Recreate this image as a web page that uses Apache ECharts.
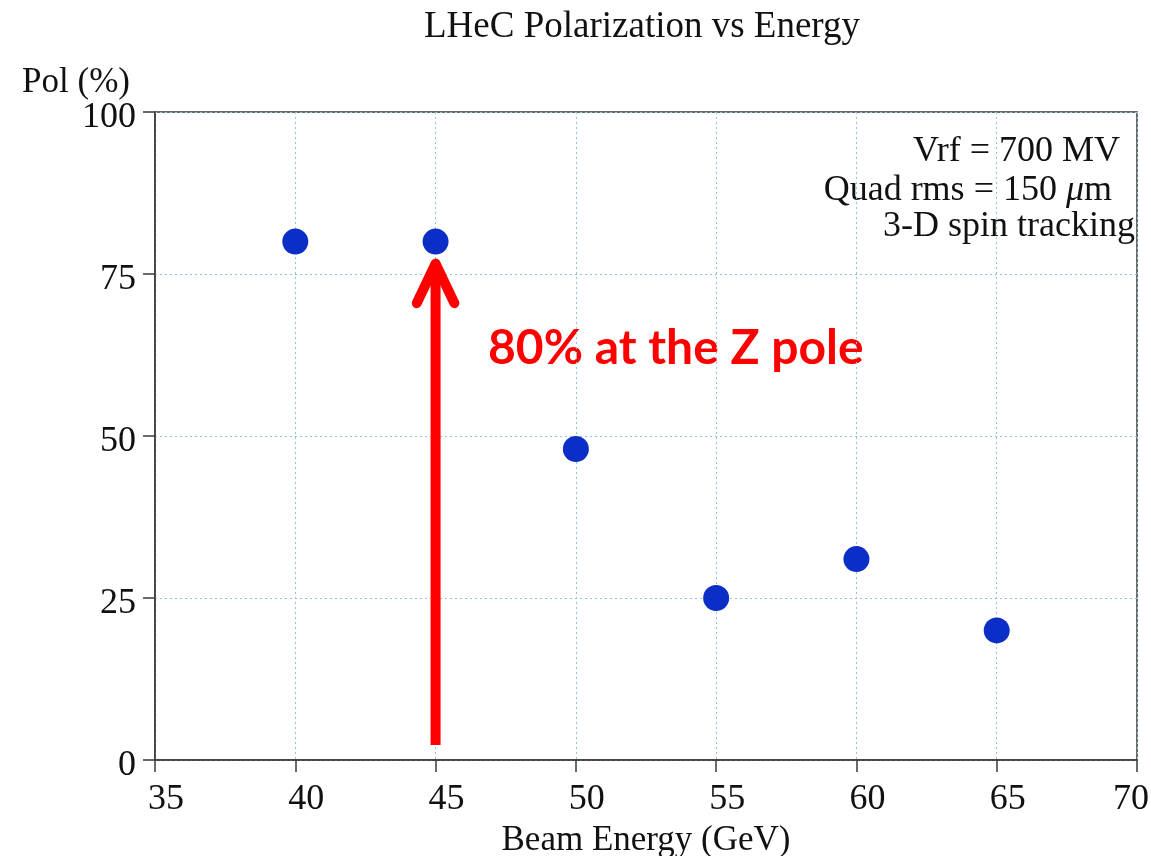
<!DOCTYPE html>
<html>
<head>
<meta charset="utf-8">
<script src="https://cdn.jsdelivr.net/npm/echarts@6/dist/echarts.min.js"></script>
<style>
  html, body { margin: 0; padding: 0; background: #fff; }
  #chart { width: 1151px; height: 856px; }
</style>
</head>
<body>
<div id="chart"></div>
<script>
// beam energy (GeV) and polarization (%)
const energies = [40, 45, 50, 55, 60, 65]
const polarization = [80, 80, 48, 25, 31, 20]

// annotation arrow at 45 GeV pointing at the Z pole point
const arrowShaft = [[45, 2.3], [45, 76.6]]
const arrowHead = [[44.33, 70.5], [45, 76.6], [45.67, 70.5]]

const infoLines = ['Vrf = 700 MV', 'Quad rms = 150 {mu|\u03bc}m', '3-D spin tracking']

const SERIF = '"Liberation Serif", "DejaVu Serif", serif'
const AXIS_COLOR = '#3a3a3a'
const GRID_COLOR = '#8fc6d6'
const DOT_COLOR = '#0b2fc6'
const ARROW_COLOR = '#ff0000'
const LABEL_FONT = { fontFamily: SERIF, fontSize: 36, color: '#111' }

const chart = echarts.init(document.getElementById('chart'))

chart.setOption({
  animation: false,
  title: {
    text: 'LHeC Polarization vs Energy',
    left: 637,
    top: 4,
    textAlign: 'center',
    textStyle: { fontFamily: SERIF, fontWeight: 'normal', fontSize: 37, color: '#111' }
  },
  grid: {
    left: 155,
    right: 14,
    top: 112,
    bottom: 96,
    containLabel: false,
    outerBoundsMode: 'none',
    show: true,
    borderColor: AXIS_COLOR,
    borderWidth: 1.5
  },
  xAxis: {
    type: 'value',
    min: 35,
    max: 70,
    interval: 5,
    name: 'Beam Energy (GeV)',
    nameLocation: 'middle',
    nameGap: 59,
    nameTextStyle: { fontFamily: SERIF, fontSize: 35, color: '#111' },
    axisLine: { lineStyle: { color: AXIS_COLOR, width: 1.5 } },
    axisTick: { show: true, inside: false, length: 12, lineStyle: { color: AXIS_COLOR, width: 1.5 } },
    axisLabel: {
      margin: 22,
      ...LABEL_FONT,
      // the labels sit slightly right of their ticks, the last one slightly left
      formatter: v => v === 70 ? '{r|' + v + '}' : '{l|' + v + '}',
      rich: {
        l: { ...LABEL_FONT, padding: [0, 0, 0, 22] },
        r: { ...LABEL_FONT, padding: [0, 12, 0, 0] }
      }
    },
    splitLine: { show: true, lineStyle: { color: GRID_COLOR, type: [2, 3], width: 1 } }
  },
  yAxis: {
    type: 'value',
    min: 0,
    max: 100,
    interval: 25,
    name: 'Pol (%)',
    nameLocation: 'end',
    nameGap: 11,
    nameTextStyle: { fontFamily: SERIF, fontSize: 35, color: '#111', align: 'right', padding: [0, 25, 0, 0] },
    axisLine: { show: true, lineStyle: { color: AXIS_COLOR, width: 1.5 } },
    axisTick: { show: true, inside: false, length: 12, lineStyle: { color: AXIS_COLOR, width: 1.5 } },
    axisLabel: {
      margin: 19,
      ...LABEL_FONT,
      // labels sit a little below their ticks
      formatter: v => '{d|' + v + '}',
      rich: { d: { ...LABEL_FONT, padding: [12, 0, 0, 0] } }
    },
    splitLine: { show: true, lineStyle: { color: GRID_COLOR, type: [2, 3], width: 1 } }
  },
  series: [
    {
      name: 'shaft',
      type: 'line',
      data: arrowShaft,
      symbol: 'none',
      lineStyle: { color: ARROW_COLOR, width: 10, cap: 'butt' },
      z: 3
    },
    {
      name: 'head',
      type: 'line',
      data: arrowHead,
      symbol: 'none',
      lineStyle: { color: ARROW_COLOR, width: 10, cap: 'round', join: 'round' },
      z: 3
    },
    {
      name: 'Polarization',
      type: 'scatter',
      data: energies.map((e, i) => [e, polarization[i]]),
      symbol: 'circle',
      symbolSize: 26,
      itemStyle: { color: DOT_COLOR, opacity: 1 },
      z: 4
    }
  ],
  graphic: [
    {
      type: 'text',
      left: 488,
      top: 325,
      style: {
        text: '80% at the Z pole',
        fontFamily: 'Lato, "Open Sans", sans-serif',
        fontWeight: 'bold',
        fontSize: 48,
        fill: ARROW_COLOR
      }
    },
    {
      type: 'text',
      right: 31,
      top: 134,
      style: { text: infoLines[0], fontFamily: SERIF, fontSize: 36, fill: '#111' }
    },
    {
      type: 'text',
      right: 39,
      top: 173,
      style: {
        text: infoLines[1],
        fontFamily: SERIF,
        fontSize: 36,
        fill: '#111',
        rich: { mu: { fontFamily: SERIF, fontStyle: 'italic', fontSize: 36, fill: '#111' } }
      }
    },
    {
      type: 'text',
      right: 16,
      top: 209,
      style: { text: infoLines[2], fontFamily: SERIF, fontSize: 36, fill: '#111' }
    }
  ]
})
</script>
</body>
</html>
